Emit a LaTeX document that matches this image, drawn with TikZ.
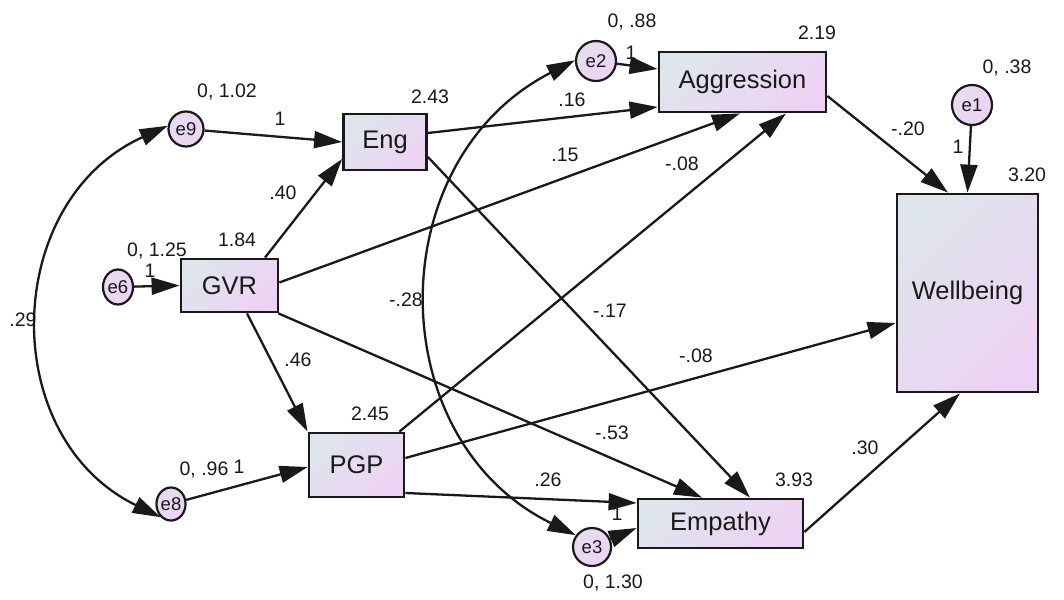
\documentclass[tikz,border=0pt]{standalone}
\usepackage{fontspec}
\setmainfont{Liberation Sans}
\usetikzlibrary{arrows.meta,shapes.geometric,calc}
\definecolor{shA}{RGB}{222,229,237}
\definecolor{shB}{RGB}{237,211,243}
\definecolor{ink}{RGB}{25,25,25}
\begin{document}
\begin{tikzpicture}[x=1pt,y=-1pt,
  obs/.style={rectangle,draw=ink,line width=2.8pt,top color=shA,bottom color=shB,shading angle=45,inner sep=0pt,text=ink,font=\fontsize{25.5}{30}\selectfont},
  err/.style={ellipse,draw=ink,line width=2.2pt,top color=shA!50!shB,bottom color=shB,shading angle=45,inner sep=0pt,text=ink,font=\fontsize{18.5}{20}\selectfont},
  lab/.style={inner sep=0pt,text=ink,font=\fontsize{19.5}{22}\selectfont},
  arr/.style={draw=ink,line width=2.3pt,-{Triangle[length=28pt,width=17pt]}},
  darr/.style={draw=ink,line width=2.3pt,{Triangle[length=28pt,width=17pt]}-{Triangle[length=28pt,width=17pt]}},
]
\useasboundingbox (0,0) rectangle (1064,599);
\fill[white] (0,0) rectangle (1064,599);

% observed variables
\node[obs,minimum width=83pt,minimum height=56pt] (Eng) at (385,142) {Eng};
\node[obs,minimum width=97pt,minimum height=53pt] (GVR) at (229.5,285.5) {GVR};
\node[obs,minimum width=95pt,minimum height=64pt] (PGP) at (356.5,465) {PGP};
\node[obs,minimum width=167pt,minimum height=60pt] (Aggression) at (742.5,82) {Aggression};
\node[obs,minimum width=141pt,minimum height=198pt] (Wellbeing) at (967.5,293) {Wellbeing};
\node[obs,minimum width=165pt,minimum height=49pt] (Empathy) at (720.5,523.5) {Empathy};

% error terms
\node[err,minimum width=35pt,minimum height=35pt] (e9) at (186,129) {e9};
\node[err,minimum width=30pt,minimum height=35pt] (e6) at (118,287) {e6};
\node[err,minimum width=29pt,minimum height=33pt] (e8) at (171,504) {e8};
\node[err,minimum width=40pt,minimum height=40pt] (e2) at (596,61) {e2};
\node[err,minimum width=40pt,minimum height=40pt] (e1) at (972,105) {e1};
\node[err,minimum width=38pt,minimum height=38pt] (e3) at (592,547) {e3};

% paths
\draw[arr] (e9) -- (Eng.west);
\draw[arr] ([xshift=35.5pt]GVR.north) -- ([yshift=-17pt]Eng.west);
\draw[arr] (e6) -- (GVR.west);
\draw[arr] (e8) -- ([yshift=-2pt]PGP.west);
\draw[arr] ([yshift=3pt]GVR.east) -- ([xshift=-2.5pt]Aggression.south);
\draw[arr] ([xshift=17.5pt]GVR.south) -- (PGP.north west);
\draw[arr] ([xshift=-1pt]GVR.south east) -- ([xshift=-18.5pt]Empathy.north);
\draw[arr] ([yshift=9pt]Eng.east) -- ([yshift=-25pt]Aggression.west);
\draw[arr] ([yshift=-15pt]Eng.east) -- ([xshift=29.5pt]Empathy.north);
\draw[arr] (e2) -- ([yshift=13pt]Aggression.west);
\draw[arr] ([xshift=-6pt]PGP.north east) -- ([xshift=43.5pt]Aggression.south);
\draw[arr] ([yshift=7pt]PGP.east) -- ([yshift=-30pt]Wellbeing.west);
\draw[arr] ([yshift=-28pt]PGP.east) -- ([yshift=20.5pt]Empathy.west);
\draw[arr] ([yshift=-14pt]Aggression.east) -- ([xshift=-19.5pt]Wellbeing.north);
\draw[arr] (e1) -- (Wellbeing.north);
\draw[arr] ([yshift=-8.5pt]Empathy.east) -- ([xshift=-7.5pt]Wellbeing.south);
\draw[arr] (e3) -- ([yshift=-4.5pt]Empathy.west);

% covariances
\draw[darr] (e9.170) .. controls (1.7,201) and (-3.8,437) .. (e8.232);
\draw[darr] (e2.178) .. controls (379,161) and (381,440) .. (e3.144);

% labels
\node[lab] (l1) at (227,92) {0, 1.02};
\node[lab] (l2) at (280,119) {1};
\node[lab] (l3) at (430,97) {2.43};
\node[lab] (l4) at (283,193) {.40};
\node[lab] (l5) at (237,240) {1.84};
\node[lab] (l6) at (157,251) {0, 1.25};
\node[lab] (l7) at (150,271) {1};
\node[lab] (l8) at (23,320) {.29};
\node[lab] (l9) at (406,300) {-.28};
\node[lab] (l10) at (610,311) {-.17};
\node[lab] (l11) at (682,164) {-.08};
\node[lab] (l12) at (696,356) {-.08};
\node[lab] (l13) at (565,155) {.15};
\node[lab] (l14) at (572,100) {.16};
\node[lab] (l15) at (632,22) {0, .88};
\node[lab] (l16) at (631,53) {1};
\node[lab] (l17) at (817,33) {2.19};
\node[lab] (l18) at (1007,68) {0, .38};
\node[lab] (l19) at (908,129) {-.20};
\node[lab] (l20) at (958,147) {1};
\node[lab] (l21) at (1027,175) {3.20};
\node[lab] (l22) at (298,360) {.46};
\node[lab] (l23) at (370,414) {2.45};
\node[lab] (l24) at (204,470) {0, .96};
\node[lab] (l25) at (239,467) {1};
\node[lab] (l26) at (612,433) {-.53};
\node[lab] (l27) at (548,480) {.26};
\node[lab] (l28) at (794,480) {3.93};
\node[lab] (l29) at (617,514) {1};
\node[lab] (l30) at (613,583) {0, 1.30};
\node[lab] (l31) at (865,448) {.30};
\end{tikzpicture}
\end{document}
